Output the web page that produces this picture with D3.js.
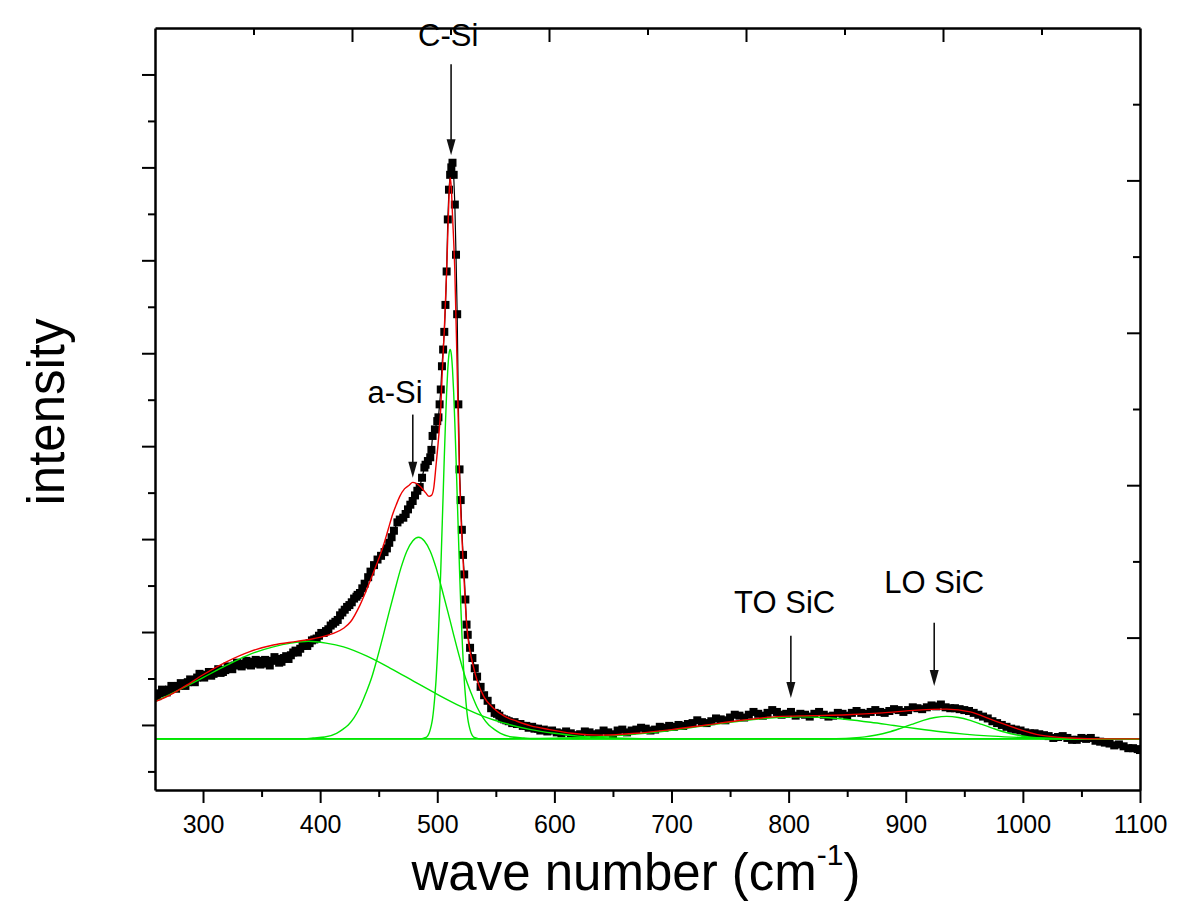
<!DOCTYPE html>
<html><head><meta charset="utf-8">
<script src="https://cdn.jsdelivr.net/npm/d3@7"></script>
<style>body{margin:0;background:#fff}</style>
</head><body>
<svg id="chart" width="1200" height="923"></svg>
<script>
// ---------- DATA ----------
// measured spectrum [wave number, intensity (a.u.)]
const spectrum = [
[259,33],[261,31],[263,34],[265,38],[267,37],[269,35],[271,38],[273,42],[275,40],[277,39],[279,42],[281,45],[283,43],[285,42],[287,46],[289,49],[291,48],[293,46],[295,51],[297,55],[299,53],[301,51],[303,54],[305,57],[307,53],[309,55],[311,57],[313,60],[315,56],[317,57],[319,59],[321,63],[323,61],[325,60],[327,64],[329,67],[331,66],[333,63],[335,65],[337,69],[339,68],[341,64],[343,66],[345,70],[347,69],[349,65],[351,67],[353,70],[355,66],[357,64],[359,69],[361,73],[363,71],[365,67],[367,68],[369,72],[371,74],[373,71],[375,75],[377,78],[379,80],[381,78],[383,82],[385,85],[387,86],[389,85],[391,88],[393,91],[395,92],[397,93],[399,96],[401,99],[403,99],[405,101],[407,103],[409,107],[411,109],[413,111],[415,113],[417,118],[419,121],[421,124],[423,127],[425,129],[427,132],[429,136],[431,138],[432,140],[434,142],[436,147],[438,152],
[441,159],[443,165],[446,172],[449,178],[452,182],[455,186],[457,190],[459,196],[461,202],[463,209],[466,218],[468,221],[471,223],[473,227],[475,232],[477,237],[479,241],[481,247],[483,252],[485,256],[487,266],[489,277],[490,280],[492,284],[494,288],[495,296],[496,311],[498,318],[500,327],[501,331],[502,345],[503,361],[504,386],[505,404],[506,423],[507,452],[508,488],[509,544],[510,576],[511,592],[512,600],[513,605],[514,592],[515,560],[516,506],[517,442],[518,345],[519,275],[520,242],[521,210],[522,183],[523,162],[524,135],[525,108],[526,97],[528,83],[530,72],[532,61],[534,52],[537,41],
[540,32],[543,26],[546,18],[549,13],[551,12],[553,10],[555,7],[557,6],[559,5],[561,4],[564,2],[566,3],[568,1],[571,1],[573,-1],[576,-1],[578,-3],[581,-2],[583,-4],[586,-4],[588,-6],[591,-5],[594,-7],[598,-6],[602,-8],[606,-9],[610,-7],[614,-9],[618,-11],[622,-10],[626,-7],[630,-8],[634,-10],[638,-9],[642,-6],[646,-8],[650,-10],[654,-6],[658,-5],[662,-8],[666,-6],[670,-5],[674,-3],[678,-4],[682,-6],[686,-5],[690,-2],[694,-3],[698,-1],[702,-2],[706,0],[710,-1],[714,1],[718,2],[722,5],[726,3],[730,2],[734,4],[738,7],[742,6],[746,5],[750,8],[754,11],[758,10],[762,8],[766,11],[770,14],[774,12],[778,10],[782,13],[786,16],[790,14],[794,11],[798,12],[802,14],[806,10],[810,12],[814,11],[818,9],[822,12],[826,14],[830,11],[834,9],[838,10],[842,13],[846,12],[850,10],[854,13],[858,15],[862,13],[866,12],[870,14],[874,16],[878,14],[882,13],[886,15],[890,17],[894,16],[898,14],[902,16],[906,19],[910,18],[914,17],[918,19],[922,21],[926,20],[930,22],[934,19],[938,18],[942,18],[946,17],[950,16],[954,15],[958,13],[962,11],[966,9],[970,7],[974,4],[978,2],[982,0],[986,-2],[990,-4],[994,-5],[998,-6],[1002,-8],[1006,-9],[1010,-9],[1014,-10],[1018,-11],[1022,-12],[1026,-14],[1030,-13],[1034,-12],[1038,-14],[1042,-16],[1046,-16],[1050,-14],[1054,-15],[1058,-14],[1062,-17],[1066,-18],[1070,-19],[1074,-20],[1078,-22],[1082,-21],[1086,-23],[1090,-25],[1094,-25],[1098,-26],[1100,-27]
];

// cumulative fit (red)
const fitCurve = [[259,25],[270,31],[285,42],[300,54],[320,68],[340,79],[360,86],[380,90],[395,93],[410,98],[420,104],[426,111],[434,129],[443,156],[448,172],[454,193],[458,210],[462,227],[465,237],[468,246],[472,254],[476,258],[479,261],[482,260],[486,256],[490,250],[493,246],[495,247],[497,255],[499,280],[501,307],[503,341],[504,372],[506,425],[508,488],[509,528],[510,568],[511,589],[512,578],[513,549],[515,488],[517,382],[519,269],[520,232],[522,178],[524,129],[526,96],[528,79],[531,62],[534,48],[540,30],[548,18],[558,9],[568,4],[580,-1],[596,-5],[615,-9],[640,-11],[670,-9],[700,-5],[730,0],[760,5],[790,9],[820,10],[850,11],[880,13],[910,16],[935,17],[955,14],[975,5],[995,-4],[1015,-11],[1040,-14],[1070,-15],[1100,-15]];

// fitted components (green)
const peakBroad = [[259,25],[280,38],[300,51],[320,64],[340,76],[360,84],[375,88],[390,90],[405,88],[420,84],[440,74],[460,61],[480,47],[500,33],[520,20],[540,9],[560,1],[580,-5],[600,-9],[620,-12],[650,-14],[700,-15],[1100,-15]];
const peakASi = [[259,-15],[384,-15],[394,-14],[404,-13],[414,-9],[419,-5],[424,0],[429,8],[434,19],[439,34],[444,51],[449,73],[454,97],[459,122],[464,146],[469,169],[474,187],[479,198],[484,202],[489,198],[494,187],[499,169],[504,146],[509,122],[514,97],[519,73],[524,51],[529,34],[534,19],[539,8],[544,0],[549,-5],[554,-9],[564,-13],[574,-14],[584,-15],[1100,-15]];
const peakCSi = [[259,-15],[486,-15],[489,-14],[491,-13],[493,-9],[494,-5],[495,0],[496,7],[497,18],[498,32],[499,49],[500,72],[501,99],[502,131],[503,167],[504,207],[505,247],[506,288],[507,325],[508,358],[509,383],[510,399],[511,404],[512,399],[513,383],[514,358],[515,325],[516,288],[517,247],[518,207],[519,167],[520,131],[521,99],[522,72],[523,49],[524,32],[525,18],[526,7],[527,0],[528,-5],[529,-9],[531,-13],[533,-14],[536,-15],[1100,-15]];
const peakTO = [[259,-15],[550,-15],[580,-14.6],[610,-14],[630,-13.1],[650,-11.8],[670,-9.9],[690,-7.3],[710,-4.1],[730,-0.6],[750,2.9],[770,5.9],[790,8.0],[810,8.7],[830,8.0],[850,5.9],[870,2.9],[890,-0.6],[910,-4.1],[930,-7.3],[950,-9.9],[970,-11.8],[990,-13.1],[1010,-14],[1040,-14.6],[1070,-15],[1100,-15]];
const peakLO = [[259,-15],[825,-15],[840,-14.7],[855,-13.9],[865,-12.8],[875,-10.8],[885,-7.9],[895,-3.9],[905,0.6],[915,4.9],[925,8.0],[935,9.2],[945,8.0],[955,4.9],[965,0.6],[975,-3.9],[985,-7.9],[995,-10.8],[1005,-12.8],[1015,-13.9],[1030,-14.7],[1045,-15],[1100,-15]];

// ticks
const xTicks = [300,350,400,450,500,550,600,650,700,750,800,850,900,950,1000,1050,1100];
const yTicks = [-50,0,50,100,150,200,250,300,350,400,450,500,550,600,650,700];
const topTicks = [1,2,3,4,5,6,7,8,9];
const rightTicks = [1,2,3,4,5,6,7,8,9];

// annotations
const annLabels = ["C-Si","a-Si","TO SiC","LO SiC"];
const annTextX = [509.3,464,796.6,924.3];
const annTextY = [731,346,121,142];
const annArrowX = [511.8,479.1,801.9,924.3];
const annArrowTop = [711,334,96,110];
const annArrowTip = [613,266,29,42];

// ---------- CHART ----------
const FONT = "'Liberation Sans', Arial, Helvetica, sans-serif";
const svg = d3.select("#chart");
svg.append("rect").attr("width",1200).attr("height",923).attr("fill","#fff");
const L=155,R=1140,T=28,B=790;
const x = d3.scaleLinear().domain([259,1100]).range([L,R]);
const y = d3.scaleLinear().domain([-70,750]).range([B,T]);
const xTop = d3.scaleLinear().domain([0,10]).range([L,R]);
const yRight = d3.scaleLinear().domain([0,10]).range([B,T]);

svg.append("defs").append("clipPath").attr("id","clip")
  .append("rect").attr("x",L).attr("y",T).attr("width",R-L).attr("height",B-T);

const plot = svg.append("g").attr("clip-path","url(#clip)");

plot.append("path").datum(spectrum)
  .attr("d", d3.line().x(d=>x(d[0])).y(d=>y(d[1])))
  .attr("fill","none").attr("stroke","#000").attr("stroke-width",1.2);
const S = 8;
plot.append("g").selectAll("rect").data(spectrum).join("rect")
  .attr("x",d=>x(d[0])-S/2).attr("y",d=>y(d[1])-S/2)
  .attr("width",S).attr("height",S).attr("fill","#000");

const smooth = d3.line().x(d=>x(d[0])).y(d=>y(d[1])).curve(d3.curveMonotoneX);
[peakBroad, peakASi, peakCSi, peakTO, peakLO].forEach(p=>{
  plot.append("path").datum(p).attr("d",smooth)
    .attr("fill","none").attr("stroke","#00e600").attr("stroke-width",1.4);
});
plot.append("path").datum(fitCurve).attr("d",smooth)
  .attr("fill","none").attr("stroke","#ee0000").attr("stroke-width",1.4);

// axes
function styleAxis(g){
  g.select(".domain").attr("stroke","#000").attr("stroke-width",2.5);
  g.selectAll(".tick line").attr("stroke","#000").attr("stroke-width",2);
}
const gB = svg.append("g").attr("transform",`translate(0,${B})`)
  .call(d3.axisBottom(x).tickValues(xTicks).tickSize(13).tickSizeOuter(0).tickPadding(12)
    .tickFormat(d=> d%100===0 ? d : ""));
styleAxis(gB);
gB.selectAll(".tick line").attr("y2", d=> d%100===0 ? 13 : 7);
gB.selectAll(".tick text").attr("font-family",FONT).attr("font-size",25).attr("fill","#000");

const gL = svg.append("g").attr("transform",`translate(${L},0)`)
  .call(d3.axisLeft(y).tickValues(yTicks).tickSize(13).tickSizeOuter(0).tickFormat(""));
styleAxis(gL);
gL.selectAll(".tick line").attr("x2", d=> d%100===0 ? -13 : -7);

const gT = svg.append("g").attr("transform",`translate(0,${T})`)
  .call(d3.axisTop(xTop).tickValues(topTicks).tickSize(0).tickSizeOuter(0).tickFormat(""));
styleAxis(gT);
gT.selectAll(".tick line").attr("y2", d=> d%2===0 ? 14 : 7);

const gR = svg.append("g").attr("transform",`translate(${R},0)`)
  .call(d3.axisRight(yRight).tickValues(rightTicks).tickSize(0).tickSizeOuter(0).tickFormat(""));
styleAxis(gR);
gR.selectAll(".tick line").attr("x2", d=> d%2===0 ? -13 : -7);

// axis titles
const xt = svg.append("text").attr("x",636).attr("y",890).attr("text-anchor","middle")
  .attr("font-family",FONT).attr("font-size",51).attr("fill","#000");
xt.append("tspan").text("wave number (cm");
xt.append("tspan").attr("font-size",30).attr("dy",-25).text("-1");
xt.append("tspan").attr("dy",25).text(")");

svg.append("text").attr("transform","translate(64,412) rotate(-90)")
  .attr("text-anchor","middle").attr("font-family",FONT).attr("font-size",51)
  .attr("fill","#000").text("intensity");

// annotations
const ann = svg.append("g");
annLabels.forEach((lab,i)=>{
  ann.append("text").attr("x",x(annTextX[i])).attr("y",y(annTextY[i]))
    .attr("text-anchor","middle").attr("font-family",FONT).attr("font-size",31)
    .attr("fill","#000").text(lab);
  const ax = x(annArrowX[i]), y0 = y(annArrowTop[i]), y1 = y(annArrowTip[i]);
  const hl = 16, hw = 4.5;
  ann.append("line").attr("x1",ax).attr("x2",ax).attr("y1",y0).attr("y2",y1-hl+1)
    .attr("stroke","#111").attr("stroke-width",1.6);
  ann.append("path").attr("d",`M${ax-hw},${y1-hl}L${ax+hw},${y1-hl}L${ax},${y1}Z`)
    .attr("fill","#111");
});
</script></body></html>
